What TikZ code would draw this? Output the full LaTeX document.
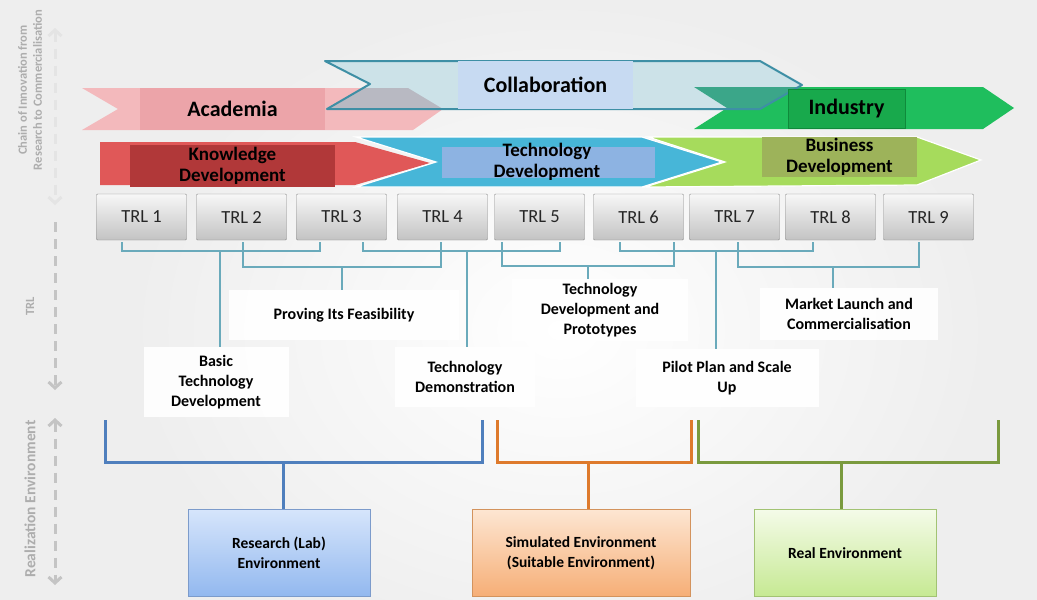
\documentclass[tikz,border=0pt]{standalone}
\usepackage{fontspec}
\setmainfont{Carlito}
\usetikzlibrary{arrows.meta, positioning, calc}

\definecolor{bgcol}{HTML}{EEEEEE}
\definecolor{sidegray}{HTML}{C4C4C4}
\definecolor{sidetext}{HTML}{ADADAD}
\definecolor{acaband}{HTML}{F3B9BC}
\definecolor{acalab}{HTML}{ECA4A9}
\definecolor{colband}{HTML}{CCE2E8}
\definecolor{colline}{HTML}{3E8FA5}
\definecolor{collab}{HTML}{C7DAF2}
\definecolor{acacol}{HTML}{B8B9C2}
\definecolor{indband}{HTML}{1FBE5D}
\definecolor{indlab}{HTML}{18A94C}
\definecolor{indline}{HTML}{0F8A3B}
\definecolor{indcol}{HTML}{3BA689}
\definecolor{knowband}{HTML}{E05858}
\definecolor{knowlab}{HTML}{B13839}
\definecolor{techband}{HTML}{47B6D8}
\definecolor{techlab}{HTML}{8DB3E2}
\definecolor{busband}{HTML}{A6DB5C}
\definecolor{buslab}{HTML}{9DB35A}
\definecolor{trltop}{HTML}{F7F7F7}
\definecolor{trlbot}{HTML}{C3C3C3}
\definecolor{trlline}{HTML}{8A8A8A}
\definecolor{bracecol}{HTML}{6AAABB}
\definecolor{labline}{HTML}{4F7FBD}
\definecolor{simline}{HTML}{DE7A2C}
\definecolor{realline}{HTML}{7A9A3E}
\definecolor{labtop}{HTML}{D6E5FB}
\definecolor{labbot}{HTML}{92B8EF}
\definecolor{labdraw}{HTML}{7C9BCB}
\definecolor{simtop}{HTML}{FDE6D2}
\definecolor{simbot}{HTML}{F6AE76}
\definecolor{simdraw}{HTML}{D3935D}
\definecolor{realtop}{HTML}{F4FBE8}
\definecolor{realbot}{HTML}{C6E993}
\definecolor{realdraw}{HTML}{A2C373}

\tikzset{
  sidelabel/.style={text=sidetext, font=\bfseries\fontsize{12.5}{15}\selectfont, align=center, inner sep=0pt},
  sidearrow/.style={sidegray, line width=3pt, dash pattern=on 10pt off 7pt,
    arrows={Straight Barb[length=6pt,width=13pt]-Straight Barb[length=6pt,width=13pt]}},
  bandlab/.style={inner sep=0pt, align=center, font=\bfseries\fontsize{19}{21}\selectfont},
  toplab/.style={inner sep=0pt, font=\bfseries\fontsize{22}{24}\selectfont},
  trlbox/.style={draw=trlline, top color=trltop, bottom color=trlbot, rounded corners=1pt,
    minimum width=90pt, minimum height=46pt, inner sep=0pt, text=black!85,
    font=\fontsize{18.5}{20}\selectfont},
  infobox/.style={fill=white, fill opacity=0.92, text opacity=1, inner sep=0pt, align=center,
    font=\bfseries\fontsize{16}{20}\selectfont},
  brace/.style={draw=bracecol, line width=2pt},
  envbrace/.style={line width=3pt},
  envbox/.style={draw, line width=1pt, minimum height=87pt, inner sep=0pt, align=center,
    font=\bfseries\fontsize{15.5}{20}\selectfont}
}

\def\acapath{(82,88) -- (408,88) -- (443,109) -- (413,130) -- (82,130) -- (118,109) -- cycle}
\def\colpath{(325,61) -- (760,61) -- (802,85) -- (760,109) -- (327,109) -- (370,84) -- cycle}
\def\indpath{(694,87) -- (983,87) -- (1014,108) -- (983,129) -- (694,129) -- (727,108) -- cycle}

\begin{document}
\begin{tikzpicture}[x=1pt,y=-1pt]
\useasboundingbox (0,0) rectangle (1037,600);
\fill[bgcol] (0,0) rectangle (1037,600);
\shade[inner color=white, outer color=bgcol] (560,330) ellipse (430 and 330);

% side labels
\node[sidelabel, rotate=90] (chain) at (30,90) {Chain of Innovation from\\Research to Commercialisation};
\node[sidelabel, rotate=90] (trlside) at (30,306) {TRL};
\node[sidelabel, rotate=90, font=\bfseries\fontsize{15.5}{17}\selectfont] (realside) at (30,499) {Realization Environment};
\draw[sidearrow, draw=sidegray!45] (55,28) -- (55,205);
\draw[sidearrow, arrows={-Straight Barb[length=6pt,width=13pt]}] (55,222) -- (55,390);
\draw[sidearrow] (55,418) -- (55,585);

% first row: academia, collaboration, industry
\fill[acaband] \acapath;
\fill[indband] \indpath;
\fill[colband] \colpath;
\begin{scope}
\clip \colpath;
\fill[acacol] \acapath;
\fill[indcol] \indpath;
\end{scope}
\draw[colline, line width=2pt, line join=round] \colpath;
\node[toplab, fill=acalab, minimum width=185pt, minimum height=42pt] (academia) at (232.5,109) {Academia};
\node[toplab, fill=collab, minimum width=175pt, minimum height=48pt] (collab) at (545.5,85) {Collaboration};
\node[toplab, fill=indlab, draw=indline, minimum width=117pt, minimum height=39pt] (industry) at (846.5,108.5) {Industry};

% second row: knowledge, technology, business
\fill[knowband] (100,142) -- (355,142) -- (430,163) -- (355,185) -- (100,185) -- cycle;
\filldraw[fill=techband, draw=white, line width=1.2pt] (356,137) -- (642,137) -- (722,162) -- (642,187) -- (356,187) -- (436,162) -- cycle;
\filldraw[fill=busband, draw=white, line width=1.2pt] (648,137) -- (917,137) -- (981,160) -- (917,185) -- (645,187) -- (725,162) -- cycle;
\node[bandlab, fill=knowlab, minimum width=205pt, minimum height=42pt] (know) at (232.5,166) {Knowledge\\Development};
\node[fill=techlab, minimum width=213pt, minimum height=31pt, inner sep=0pt] (techlab) at (548.5,162.5) {};
\node[bandlab] (techtxt) at (547,162) {Technology\\Development};
\node[bandlab, fill=buslab, minimum width=155pt, minimum height=40pt] (bus) at (839.5,157) {Business\\Development};

% TRL row
\foreach \n/\x in {1/141.5, 2/241.5, 3/341.5, 4/442.5, 5/539.5, 6/638.5, 7/734.5, 8/830.5, 9/928.5}
  \node[trlbox] (t\n) at (\x,217) {TRL \n};

% stage labels
\node[infobox, minimum width=145pt, minimum height=70pt] (basic) at (216,382) {Basic\\Technology\\Development};
\node[infobox, minimum width=230pt, minimum height=50pt] (prove) at (344,315) {Proving Its Feasibility};
\node[infobox, minimum width=140pt, minimum height=60pt] (demo) at (465,377) {Technology\\Demonstration};
\node[infobox, minimum width=176pt, minimum height=62pt] (proto) at (600,310) {Technology\\Development and\\Prototypes};
\node[infobox, minimum width=183pt, minimum height=58pt] (pilot) at (727,378) {Pilot Plan and Scale\\Up};
\node[infobox, minimum width=178pt, minimum height=52pt] (market) at (849,314) {Market Launch and\\Commercialisation};

% brackets under the TRL row
\draw[brace] ([shift={(-20,2)}]t1.south) -- ++(0,9) -| ([shift={(-22,2)}]t3.south);
\draw[brace] ([shift={(1.5,2)}]t2.south) -- ++(0,25) -| ([shift={(-1.5,2)}]t4.south);
\draw[brace] ([shift={(21.5,2)}]t3.south) -- ++(0,9) -| ([shift={(20.5,2)}]t5.south);
\draw[brace] ([shift={(-37.5,2)}]t5.south) -- ++(0,24) -| ([shift={(35.5,2)}]t6.south);
\draw[brace] ([shift={(-18.5,2)}]t6.south) -- ++(0,9) -| ([shift={(-17.5,2)}]t8.south);
\draw[brace] ([shift={(3.5,2)}]t7.south) -- ++(0,25) -| ([shift={(-9.5,2)}]t9.south);
\coordinate (s1) at (220,251);
\coordinate (s2) at (342,267);
\coordinate (s3) at (467,251);
\coordinate (s4) at (588,266);
\coordinate (s5) at (716,251);
\coordinate (s6) at (833,267);
\draw[brace] (s1) -- (s1 |- basic.north);
\draw[brace] (s2) -- (s2 |- prove.north);
\draw[brace] (s3) -- (s3 |- demo.north);
\draw[brace] (s4) -- (s4 |- proto.north);
\draw[brace] (s5) -- (s5 |- pilot.north);
\draw[brace] (s6) -- (s6 |- market.north);

% environments
\node[envbox, draw=labdraw, top color=labtop, bottom color=labbot, minimum width=182pt] (lab) at (279,553) {Research (Lab)\\Environment};
\node[envbox, draw=simdraw, top color=simtop, bottom color=simbot, minimum width=218pt] (sim) at (581,553) {Simulated Environment\\(Suitable Environment)};
\node[envbox, draw=realdraw, top color=realtop, bottom color=realbot, minimum width=182pt] (real) at (845,553) {Real Environment};
\draw[envbrace, labline] (105,420) |- (482,462) -- (482,420);
\draw[envbrace, simline] (497,420) |- (691,462) -- (691,420);
\draw[envbrace, realline] (698,420) |- (998,462) -- (998,420);
\coordinate (e1) at (283,462);
\coordinate (e2) at (588,462);
\coordinate (e3) at (841,462);
\draw[envbrace, labline] (e1) -- (e1 |- lab.north);
\draw[envbrace, simline] (e2) -- (e2 |- sim.north);
\draw[envbrace, realline] (e3) -- (e3 |- real.north);
\end{tikzpicture}
\end{document}
